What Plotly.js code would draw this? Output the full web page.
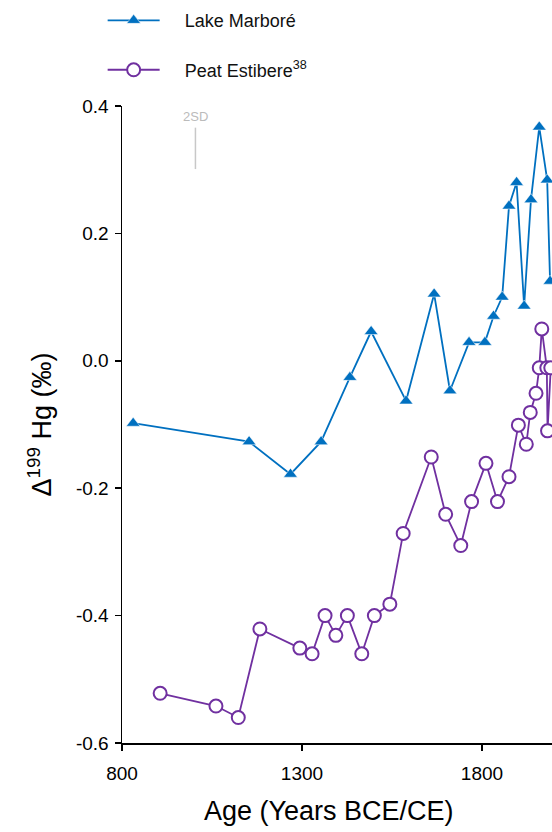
<!DOCTYPE html>
<html>
<head>
<meta charset="utf-8">
<script src="https://cdn.plot.ly/plotly-3.0.1.min.js"></script>
<style>html,body{margin:0;padding:0;background:#fff;overflow:hidden}#chart{width:552px;height:832px}</style>
</head>
<body>
<div id="chart"></div>
<script>
// Lake Marboré
const lakeYears = [831, 1153, 1268, 1353, 1433, 1492, 1589, 1667, 1711, 1764, 1808, 1832, 1856, 1875, 1896, 1917, 1936, 1959, 1981, 1989];
const lakeValues = [-0.098, -0.127, -0.178, -0.127, -0.026, 0.046, -0.063, 0.105, -0.047, 0.029, 0.029, 0.07, 0.1, 0.243, 0.28, 0.086, 0.253, 0.367, 0.284, 0.125];
// Peat Estibere
const peatYears = [906, 1061, 1123, 1183, 1294, 1328, 1364, 1394, 1426, 1466, 1501, 1544, 1581, 1659, 1699, 1741, 1771, 1811, 1843, 1875, 1901, 1923, 1934, 1950, 1959, 1966, 1980, 1982, 1991];
const peatValues = [-0.522, -0.542, -0.56, -0.421, -0.451, -0.46, -0.4, -0.431, -0.4, -0.46, -0.4, -0.382, -0.271, -0.151, -0.241, -0.29, -0.221, -0.161, -0.221, -0.182, -0.101, -0.131, -0.081, -0.051, -0.011, 0.05, -0.011, -0.11, -0.011];
// axes
const xTicks = [800, 1300, 1800];
const yTicks = [-0.6, -0.4, -0.2, 0.0, 0.2, 0.4];
const yTickLabels = ["-0.6", "-0.4", "-0.2", "0.0", "0.2", "0.4"];
// 2SD scale bar
const sdYear = 1004;
const sdLow = 0.301;
const sdHigh = 0.366;

const font = 'Liberation Sans, Arial, sans-serif';
const blue = '#0070C0';
const purple = '#7030A0';
const pad = '\u00a0\u00a0\u00a0\u00a0';

const traces = [
  {
    x: lakeYears, y: lakeValues, type: 'scatter', mode: 'lines+markers',
    name: pad + 'Lake Marboré', legendgroup: 'a',
    line: {color: blue, width: 1.8},
    marker: {symbol: 'triangle-up', size: 12, color: blue, line: {color: '#fff', width: 0.5}}
  },
  {
    x: peatYears, y: peatValues, type: 'scatter', mode: 'lines+markers',
    name: pad + 'Peat Estibere<sup>38</sup>', legendgroup: 'b',
    line: {color: purple, width: 1.8},
    marker: {symbol: 'circle', size: 13, color: '#fff', line: {color: purple, width: 2}}
  }
];

const layout = {
  width: 552, height: 832,
  margin: {l: 122, r: 0, t: 106, b: 89},
  paper_bgcolor: '#fff', plot_bgcolor: '#fff',
  font: {family: font, color: '#000', size: 19},
  showlegend: true,
  legend: {
    x: -0.045, xanchor: 'left', y: 1.163, yanchor: 'top',
    bgcolor: 'rgba(0,0,0,0)', font: {size: 18, family: font, color: '#111'},
    tracegroupgap: 23, itemwidth: 52
  },
  xaxis: {
    range: [800, 1994.4], tickvals: xTicks, ticktext: xTicks.map(String),
    showline: true, linecolor: '#000', linewidth: 1.5, mirror: false,
    ticks: 'outside', ticklen: 6, tickwidth: 1.5, tickcolor: '#000',
    showgrid: false, zeroline: false, ticklabelstandoff: 7,
    tickfont: {size: 19, family: font}
  },
  yaxis: {
    range: [-0.6, 0.4], tickvals: yTicks, ticktext: yTickLabels,
    showline: true, linecolor: '#000', linewidth: 1.5,
    ticks: 'outside', ticklen: 6, tickwidth: 1.5, tickcolor: '#000',
    showgrid: false, zeroline: false, ticklabelstandoff: 2,
    tickfont: {size: 19, family: font},
    title: {text: 'Δ<sup>199</sup> Hg (‰)', font: {size: 27, family: font}, standoff: 16}
  },
  annotations: [
    {xref: 'paper', yref: 'paper', x: (329 - 122) / 430, y: (743 - 811) / 637,
     text: 'Age (Years BCE/CE)', showarrow: false, xanchor: 'center', yanchor: 'middle',
     font: {size: 27, family: font, color: '#000'}},
    {xref: 'x', yref: 'y', x: sdYear, y: sdHigh, yanchor: 'bottom', yshift: 2,
     text: '2SD', showarrow: false, font: {size: 13, family: font, color: '#bbb'}}
  ],
  shapes: [
    {type: 'line', xref: 'x', yref: 'y', x0: sdYear, x1: sdYear, y0: sdLow, y1: sdHigh,
     line: {color: '#c8c8c8', width: 1.5}}
  ]
};

Plotly.newPlot('chart', traces, layout, {displayModeBar: false, staticPlot: true});
</script>
</body>
</html>
